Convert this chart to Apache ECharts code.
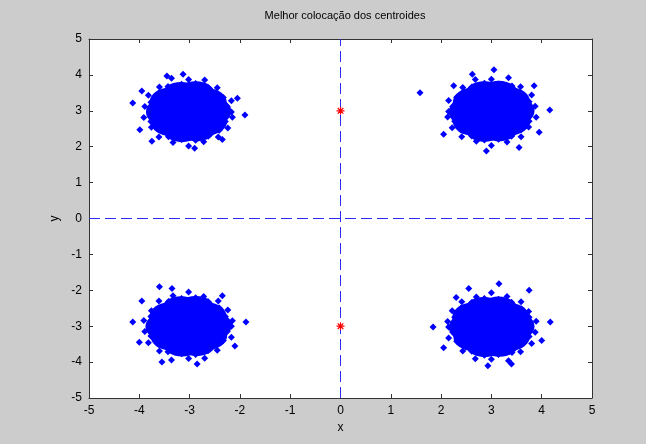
<!DOCTYPE html>
<html><head><meta charset="utf-8">
<script src="https://cdn.jsdelivr.net/npm/echarts@6/dist/echarts.min.js"></script>
<style>html,body{margin:0;padding:0;background:#cccccc;}#c{width:646px;height:444px;}</style>
</head><body><div id="c"></div>
<script>
var titleText = 'Melhor colocação dos centroides';
var xTicks = [-5,-4,-3,-2,-1,0,1,2,3,4,5];
var yTicks = [-5,-4,-3,-2,-1,0,1,2,3,4,5];

// dense cores of the four clusters
var coreTL = [[-3.02,2.97],[-2.77,2.97],[-3.02,3.22],[-3.27,2.97],[-3.02,2.72],[-2.57,2.99],[-2.66,3.23],[-2.88,3.42],[-3.17,3.40],[-3.40,3.24],[-3.47,2.97],[-3.38,2.70],[-3.15,2.53],[-2.86,2.55],[-2.65,2.72]];
var coreTR = [[3.0,2.98],[3.25,2.98],[3.0,3.23],[2.75,2.98],[3.0,2.73],[3.46,3.00],[3.37,3.25],[3.15,3.43],[2.86,3.42],[2.63,3.24],[2.55,2.97],[2.63,2.71],[2.86,2.54],[3.15,2.55],[3.37,2.72]];
var coreBL = [[-3.02,-3.0],[-2.77,-3.0],[-3.02,-2.75],[-3.27,-3.0],[-3.02,-3.25],[-2.56,-2.98],[-2.66,-2.74],[-2.88,-2.56],[-3.17,-2.57],[-3.40,-2.74],[-3.48,-3.01],[-3.38,-3.27],[-3.15,-3.44],[-2.86,-3.43],[-2.65,-3.26]];
var coreBR = [[3.0,-3.02],[3.25,-3.02],[3.0,-2.77],[2.75,-3.02],[3.0,-3.27],[3.46,-3.00],[3.36,-2.76],[3.14,-2.58],[2.85,-2.59],[2.62,-2.75],[2.55,-3.03],[2.64,-3.29],[2.87,-3.46],[3.16,-3.45],[3.37,-3.28]];

// individual points around the cores
var dotsTL = [[-2.17,2.97],[-2.25,3.11],[-2.17,3.28],[-2.33,3.37],[-2.45,3.45],[-2.45,3.64],[-2.63,3.65],[-2.70,3.86],[-2.88,3.76],[-3.02,3.87],[-3.16,3.74],[-3.36,3.91],[-3.43,3.68],[-3.60,3.66],[-3.62,3.47],[-3.82,3.43],[-3.77,3.24],[-3.89,3.12],[-3.80,2.97],[-3.91,2.81],[-3.77,2.70],[-3.76,2.54],[-3.62,2.47],[-3.61,2.27],[-3.42,2.28],[-3.33,2.12],[-3.16,2.20],[-3.02,2.02],[-2.88,2.18],[-2.72,2.14],[-2.63,2.29],[-2.43,2.27],[-2.41,2.46],[-2.24,2.52],[-2.29,2.70],[-2.15,2.82],
 [-2.36,3.15],[-2.54,3.45],[-2.84,3.65],[-3.20,3.63],[-3.51,3.46],[-3.68,3.15],[-3.70,2.79],[-3.50,2.49],[-3.20,2.29],[-2.84,2.31],[-2.52,2.48],[-2.36,2.79],
 [-4.13,3.22],[-3.99,2.47],[-1.90,2.88],[-2.90,1.96],[-3.45,3.97],[-3.13,4.02],[-2.05,3.35],[-3.75,2.15],[-2.35,2.20],[-3.95,3.55]];
var dotsTR = [[2.15,2.98],[2.23,3.12],[2.15,3.29],[2.31,3.38],[2.43,3.46],[2.43,3.65],[2.61,3.66],[2.68,3.87],[2.86,3.77],[3.0,3.88],[3.14,3.75],[3.34,3.92],[3.41,3.69],[3.58,3.67],[3.60,3.48],[3.80,3.44],[3.75,3.25],[3.87,3.13],[3.78,2.98],[3.89,2.82],[3.75,2.71],[3.74,2.55],[3.60,2.48],[3.59,2.28],[3.40,2.29],[3.31,2.13],[3.14,2.21],[3.0,2.03],[2.86,2.19],[2.70,2.15],[2.61,2.30],[2.41,2.28],[2.39,2.47],[2.22,2.53],[2.27,2.71],[2.13,2.83],
 [2.34,3.16],[2.52,3.46],[2.82,3.66],[3.18,3.64],[3.49,3.47],[3.66,3.16],[3.68,2.80],[3.48,2.50],[3.18,2.30],[2.82,2.32],[2.50,2.49],[2.34,2.80],
 [1.58,3.50],[4.16,3.02],[3.05,4.14],[2.90,1.88],[2.62,4.02],[3.85,3.70],[3.95,2.40],[2.05,2.35],[3.55,1.98],[2.25,3.70]];
var dotsBL = [[-2.17,-3.0],[-2.25,-3.14],[-2.17,-3.31],[-2.33,-3.40],[-2.45,-3.48],[-2.45,-3.67],[-2.63,-3.68],[-2.70,-3.89],[-2.88,-3.79],[-3.02,-3.90],[-3.16,-3.77],[-3.36,-3.94],[-3.43,-3.71],[-3.60,-3.69],[-3.62,-3.50],[-3.82,-3.46],[-3.77,-3.27],[-3.89,-3.15],[-3.80,-3.0],[-3.91,-2.84],[-3.77,-2.73],[-3.76,-2.57],[-3.62,-2.50],[-3.61,-2.30],[-3.42,-2.31],[-3.33,-2.15],[-3.16,-2.23],[-3.02,-2.05],[-2.88,-2.21],[-2.72,-2.17],[-2.63,-2.32],[-2.43,-2.30],[-2.41,-2.49],[-2.24,-2.55],[-2.29,-2.73],[-2.15,-2.85],
 [-2.36,-3.18],[-2.54,-3.48],[-2.84,-3.68],[-3.20,-3.66],[-3.51,-3.49],[-3.68,-3.18],[-3.70,-2.82],[-3.50,-2.52],[-3.20,-2.32],[-2.84,-2.34],[-2.52,-2.51],[-2.36,-2.82],
 [-4.13,-2.88],[-1.88,-2.88],[-3.60,-1.90],[-2.85,-4.05],[-3.35,-1.95],[-2.35,-2.15],[-4.00,-3.45],[-2.10,-3.55],[-3.55,-4.00],[-3.95,-2.30]];
var dotsBR = [[2.15,-3.02],[2.23,-3.16],[2.15,-3.33],[2.31,-3.42],[2.43,-3.50],[2.43,-3.69],[2.61,-3.70],[2.68,-3.91],[2.86,-3.81],[3.0,-3.92],[3.14,-3.79],[3.34,-3.96],[3.41,-3.73],[3.58,-3.71],[3.60,-3.52],[3.80,-3.48],[3.75,-3.29],[3.87,-3.17],[3.78,-3.02],[3.89,-2.86],[3.75,-2.75],[3.74,-2.59],[3.60,-2.52],[3.59,-2.32],[3.40,-2.33],[3.31,-2.17],[3.14,-2.25],[3.0,-2.07],[2.86,-2.23],[2.70,-2.19],[2.61,-2.34],[2.41,-2.32],[2.39,-2.51],[2.22,-2.57],[2.27,-2.75],[2.13,-2.87],
 [2.34,-3.20],[2.52,-3.50],[2.82,-3.70],[3.18,-3.68],[3.49,-3.51],[3.66,-3.20],[3.68,-2.84],[3.48,-2.54],[3.18,-2.34],[2.82,-2.36],[2.50,-2.53],[2.34,-2.84],
 [1.84,-3.02],[4.17,-2.88],[3.15,-1.82],[2.93,-4.10],[2.55,-1.95],[3.75,-2.00],[2.05,-3.60],[4.00,-3.40],[3.40,-4.05],[2.30,-2.20]];

var centroids = [[0,3],[0,-3]];
var zeroLineX = 0, zeroLineY = 0;

var blue = '#0000ff';
var font = 'Liberation Sans, Arial, sans-serif';
var labelStyle = {color:'#000', fontFamily:font, fontSize:12};
function axisCommon(pos, showLabel){
  return {
    type:'value', min:-5, max:5, interval:1, position:pos,
    axisLine:{show:true, onZero:false, lineStyle:{color:'#333', width:1}},
    axisTick:{show:true, inside:true, length:4, lineStyle:{color:'#333'}},
    axisLabel:Object.assign({show:showLabel, margin:7}, labelStyle),
    splitLine:{show:false}
  };
}
var xBottom = axisCommon('bottom', true);
xBottom.name = 'x'; xBottom.nameLocation='middle'; xBottom.nameGap=24; xBottom.nameTextStyle = labelStyle;
var yLeft = axisCommon('left', true);
yLeft.name = 'y'; yLeft.nameLocation='middle'; yLeft.nameGap=24; yLeft.nameTextStyle = labelStyle;
var xTop = axisCommon('top', false);
var yRight = axisCommon('right', false);

var chart = echarts.init(document.getElementById('c'), null, {renderer:'canvas'});
function dotSeries(d){ return {type:'scatter', data:d, symbol:'diamond', symbolSize:7, itemStyle:{color:blue, opacity:1}, silent:true}; }
function coreSeries(d){ return {type:'scatter', data:d, symbol:'circle', symbolSize:[40,29], itemStyle:{color:blue, opacity:1}, silent:true}; }
chart.setOption({
  animation:false,
  backgroundColor:'#cccccc',
  title:{text:titleText, left:340, top:5, textAlign:'center', textStyle:{color:'#000', fontFamily:font, fontSize:11, fontWeight:'normal'}},
  grid:{left:89, right:54, top:39, bottom:46, show:true, backgroundColor:'#ffffff', borderWidth:0},
  xAxis:[xBottom, xTop],
  yAxis:[yLeft, yRight],
  series:[
    coreSeries(coreTL), coreSeries(coreTR), coreSeries(coreBL), coreSeries(coreBR),
    dotSeries(dotsTL), dotSeries(dotsTR), dotSeries(dotsBL), dotSeries(dotsBR),
    {type:'scatter', data:centroids, symbol:'path://M4,0L4,8M0,4L8,4M1.2,1.2L6.8,6.8M6.8,1.2L1.2,6.8', symbolSize:8,
     itemStyle:{color:'none', borderColor:'#ff0000', borderWidth:1.2, opacity:1}, z:5, silent:true,
     markLine:{silent:true, symbol:'none', label:{show:false},
       lineStyle:{color:'#2b2bff', type:[11,5], width:1, opacity:1},
       data:[{xAxis:zeroLineX},{yAxis:zeroLineY}]}}
  ]
});
</script></body></html>
